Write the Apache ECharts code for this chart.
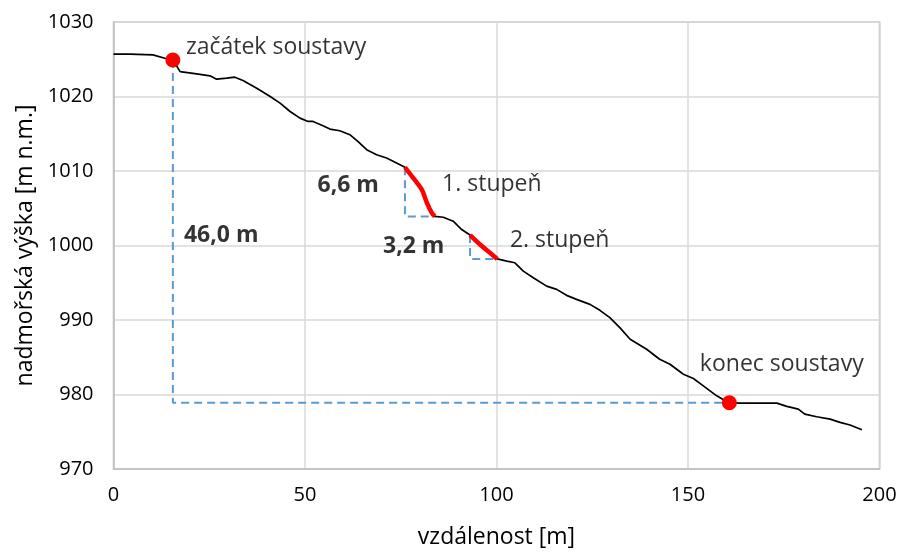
<!DOCTYPE html>
<html>
<head>
<meta charset="utf-8">
<script src="https://cdn.jsdelivr.net/npm/echarts@6/dist/echarts.min.js"></script>
<style>html,body{margin:0;padding:0;background:#fff}#c{width:902px;height:554px}</style>
</head>
<body>
<div id="c"></div>
<script>
// Terrain profile: distance [m]
const distance = [0,4.3,10.3,13.4,15.5,17.4,21.7,25.2,26.9,29.6,31.7,33.8,37.4,40.9,43.5,46.1,48.7,50.8,52.1,54.7,56.5,59.1,61.7,63.8,66.1,68.7,71.3,73.9,76.1,78.2,80.5,81.8,83.1,83.9,86.1,88.7,90.9,93.1,95.7,98.3,100.2,102.7,104.8,107.0,109.6,113.1,115.7,118.3,120.9,124.4,127.0,129.6,132.2,134.9,139.2,142.6,145.3,148.8,151.4,154.0,157.5,159.7,160.8,163.6,173.2,175.8,178.8,180.5,183.6,187.1,189.7,192.3,195.4];
// Elevation [m n.m.]
const elevation = [1025.7,1025.7,1025.58,1025.14,1024.9,1023.34,1023.04,1022.77,1022.33,1022.46,1022.59,1022.14,1021.12,1020.0,1019.11,1017.99,1017.1,1016.65,1016.65,1016.07,1015.63,1015.4,1014.87,1013.97,1012.86,1012.19,1011.75,1011.08,1010.5,1009.11,1007.5,1005.76,1004.38,1003.9,1003.79,1003.26,1002.14,1001.4,1000.14,999.02,998.2,997.9,997.68,996.56,995.67,994.55,994.11,993.31,992.77,992.1,991.3,990.32,988.98,987.41,986.07,984.73,984.06,982.72,982.15,981.16,979.82,979.15,978.9,978.84,978.84,978.4,978.04,977.37,977.01,976.7,976.26,975.9,975.27];
// Steps: index ranges into the profile (start, end)
const step1Range = [28, 33];
const step2Range = [37, 40];
// System start / end (indices into profile)
const systemStartIdx = 4;
const systemEndIdx = 62;
// Axis ticks
const xTicks = [0, 50, 100, 150, 200];
const yTicks = [970, 980, 990, 1000, 1010, 1020, 1030];
// Annotation texts with anchor coordinates [x, y]
const annotTexts = ['začátek soustavy','6,6 m','1. stupeň','3,2 m','2. stupeň','46,0 m','konec soustavy'];
const annotX = [18.9, 69.3, 85.8, 86.4, 103.5, 18.4, 153.1];
const annotY = [1026.65, 1008.04, 1008.17, 999.87, 1000.67, 1001.34, 984.06];
const annotBold = [false, true, false, true, false, true, false];
const annotAlign = ['left','right','left','right','left','left','left'];

const FONT = 'Open Sans';
const pts = distance.map((d,i)=>[d, elevation[i]]);
const slice = r => pts.slice(r[0], r[1]+1);
const sP = pts[systemStartIdx], eP = pts[systemEndIdx];
const s1a = pts[step1Range[0]], s1b = pts[step1Range[1]];
const s2a = pts[step2Range[0]], s2b = pts[step2Range[1]];

const dashStyle = {color:'#5B9BD5', width:2, type:[8,5]};
function dashSeries(data){
  return {type:'line', data, symbol:'none', lineStyle:dashStyle, silent:true, z:2, animation:false};
}

const chart = echarts.init(document.getElementById('c'), null, {renderer:'canvas'});
chart.setOption({
  animation:false,
  backgroundColor:'#fff',
  textStyle:{fontFamily:FONT},
  grid:{left:113.5, right:22.5, top:22, bottom:84, show:true, borderColor:'#bfbfbf', borderWidth:1.5, containLabel:false},
  xAxis:{
    type:'value', min:xTicks[0], max:xTicks[xTicks.length-1], interval:50,
    name:'vzdálenost [m]', nameLocation:'middle', nameGap:57,
    nameTextStyle:{fontSize:23, color:'#000', fontFamily:FONT},
    axisLine:{lineStyle:{color:'#bfbfbf', width:1.5}}, axisTick:{show:false},
    axisLabel:{fontSize:20, color:'#000', margin:16, fontFamily:FONT},
    splitLine:{lineStyle:{color:'#d9d9d9', width:1.5}}
  },
  yAxis:{
    type:'value', min:yTicks[0], max:yTicks[yTicks.length-1], interval:10,
    name:'nadmořská výška [m n.m.]', nameLocation:'middle', nameGap:74,
    nameTextStyle:{fontSize:23, color:'#000', fontFamily:FONT},
    axisLine:{show:true, lineStyle:{color:'#bfbfbf', width:1.5}}, axisTick:{show:false},
    axisLabel:{fontSize:20, color:'#000', margin:20, fontFamily:FONT, formatter:v=>String(v)},
    splitLine:{lineStyle:{color:'#d9d9d9', width:1.5}}
  },
  series:[
    dashSeries([[sP[0], sP[1]], [sP[0], eP[1]], [eP[0], eP[1]]]),
    dashSeries([[s1a[0], s1a[1]], [s1a[0], s1b[1]], [s1b[0], s1b[1]]]),
    dashSeries([[s2a[0], s2a[1]], [s2a[0], s2b[1]], [s2b[0], s2b[1]]]),
    {type:'line', data:pts, symbol:'none', lineStyle:{color:'#000', width:1.7}, z:3},
    {type:'line', data:slice(step1Range), symbol:'none', smooth:0.3, lineStyle:{color:'#ff0000', width:4.5}, z:4},
    {type:'line', data:slice(step2Range), symbol:'none', smooth:0.3, lineStyle:{color:'#ff0000', width:4.5}, z:4},
    {type:'scatter', data:[sP, eP], symbolSize:15, itemStyle:{color:'#ff0000', opacity:1}, z:5},
    {type:'scatter', symbolSize:0, z:6, silent:true,
      data: annotTexts.map((t,i)=>({value:[annotX[i], annotY[i]], name:t,
        label:{show:true, formatter:t, position:'inside', align:annotAlign[i], verticalAlign:'middle',
          fontSize:23, color:'#000', fontWeight: annotBold[i] ? 'bold':'normal', fontFamily:FONT}}))
    }
  ]
});
</script>
</body>
</html>
